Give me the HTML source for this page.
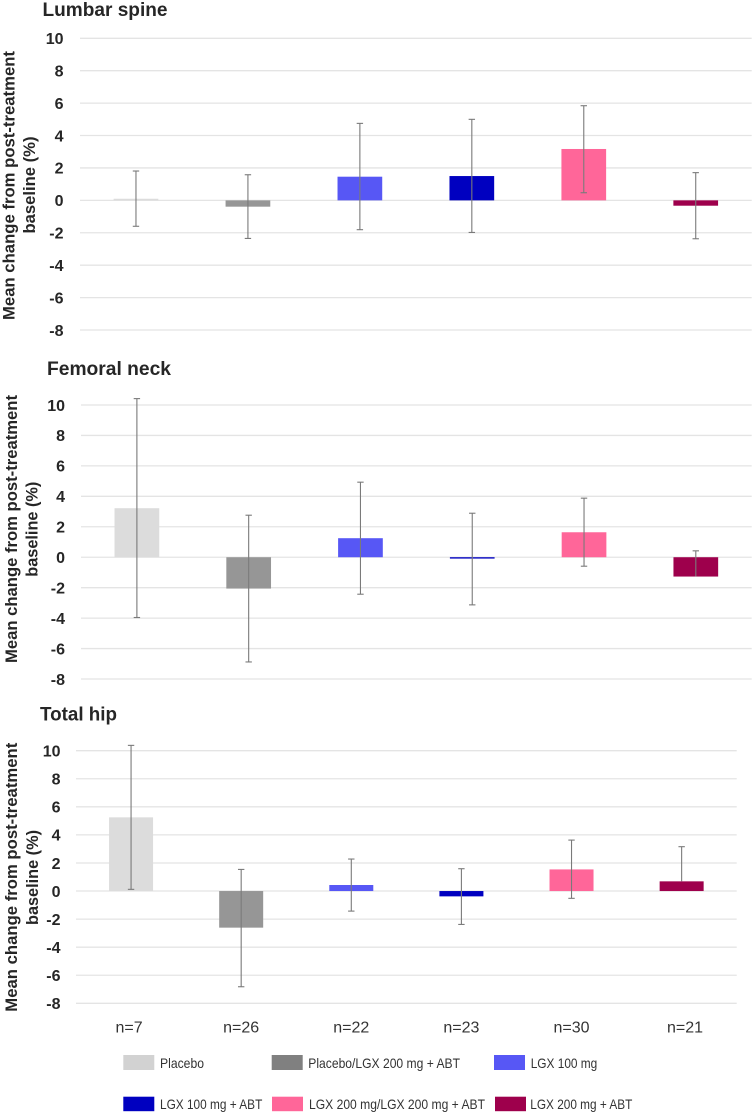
<!DOCTYPE html>
<html lang="en">
<head>
<meta charset="utf-8">
<title>Mean change from post-treatment baseline</title>
<style>
html,body{margin:0;padding:0;background:#fff;width:755px;height:1115px;overflow:hidden}
svg{display:block;filter:blur(0.3px)}
text{font-family:"Liberation Sans",sans-serif}
.title{font-size:19px;font-weight:bold;fill:#262626}
.ytitle{font-size:17px;font-weight:bold;fill:#262626}
.tick{font-size:16px;font-weight:bold;fill:#262626;text-anchor:end}
.cat{font-size:16px;fill:#333;text-anchor:middle}
.leg{font-size:14px;fill:#333}
</style>
</head>
<body>
<svg id="chart" xmlns="http://www.w3.org/2000/svg" width="755" height="1115" viewBox="0 0 755 1115">
  <rect width="755" height="1115" fill="#fff"/>

  <text class="title" x="42.5" y="16" textLength="125" lengthAdjust="spacingAndGlyphs">Lumbar spine</text>
  <text class="title" x="47" y="375" textLength="124" lengthAdjust="spacingAndGlyphs">Femoral neck</text>
  <text class="title" x="40" y="720.7" textLength="77" lengthAdjust="spacingAndGlyphs">Total hip</text>

  <g>
    <text class="ytitle" transform="translate(14.7 320) rotate(-90)" textLength="269" lengthAdjust="spacingAndGlyphs">Mean change from post-treatment</text>
    <text class="ytitle" transform="translate(35 233.5) rotate(-90)" textLength="97" lengthAdjust="spacingAndGlyphs">baseline (%)</text>
  </g>
  <g>
    <text class="ytitle" transform="translate(17 663) rotate(-90)" textLength="268" lengthAdjust="spacingAndGlyphs">Mean change from post-treatment</text>
    <text class="ytitle" transform="translate(37.5 576.7) rotate(-90)" textLength="95" lengthAdjust="spacingAndGlyphs">baseline (%)</text>
  </g>
  <g>
    <text class="ytitle" transform="translate(17 1011.7) rotate(-90)" textLength="269" lengthAdjust="spacingAndGlyphs">Mean change from post-treatment</text>
    <text class="ytitle" transform="translate(38 925) rotate(-90)" textLength="95" lengthAdjust="spacingAndGlyphs">baseline (%)</text>
  </g>

  <g id="panels"></g>

  <g>
    <g>
      <rect x="123.3" y="1055" width="31" height="15" fill="#d2d2d2"/>
      <text class="leg" x="160" y="1068" textLength="44" lengthAdjust="spacingAndGlyphs">Placebo</text>
    </g>
    <g>
      <rect x="271.7" y="1055" width="31" height="15" fill="#808080"/>
      <text class="leg" x="308.3" y="1068" textLength="151.7" lengthAdjust="spacingAndGlyphs">Placebo/LGX 200 mg + ABT</text>
    </g>
    <g>
      <rect x="494" y="1055" width="31" height="15" fill="#5757f5"/>
      <text class="leg" x="530.7" y="1068" textLength="66.6" lengthAdjust="spacingAndGlyphs">LGX 100 mg</text>
    </g>
    <g>
      <rect x="123.3" y="1096.7" width="31" height="14.5" fill="#0000c0"/>
      <text class="leg" x="160" y="1109.2" textLength="102.3" lengthAdjust="spacingAndGlyphs">LGX 100 mg + ABT</text>
    </g>
    <g>
      <rect x="272" y="1096.7" width="31" height="14.5" fill="#ff6699"/>
      <text class="leg" x="309" y="1109.2" textLength="176" lengthAdjust="spacingAndGlyphs">LGX 200 mg/LGX 200 mg + ABT</text>
    </g>
    <g>
      <rect x="495" y="1096.7" width="31" height="14.5" fill="#9e004c"/>
      <text class="leg" x="530.3" y="1109.2" textLength="102" lengthAdjust="spacingAndGlyphs">LGX 200 mg + ABT</text>
    </g>
  </g>
</svg>

<script>
var groups = ['Placebo', 'Placebo/LGX 200 mg + ABT', 'LGX 100 mg', 'LGX 100 mg + ABT', 'LGX 200 mg/LGX 200 mg + ABT', 'LGX 200 mg + ABT'];
var sampleLabels = ['n=7', 'n=26', 'n=22', 'n=23', 'n=30', 'n=21'];
var tickValues = [10, 8, 6, 4, 2, 0, -2, -4, -6, -8];

var lumbarMeans = [0.1, -0.39, 1.46, 1.5, 3.17, -0.33];
var lumbarUpper = [1.81, 1.58, 4.75, 5.0, 5.84, 1.71];
var lumbarLower = [-1.6, -2.35, -1.81, -1.98, 0.47, -2.37];

var femoralMeans = [3.22, -2.06, 1.25, -0.09, 1.64, -1.27];
var femoralUpper = [10.42, 2.76, 4.93, 2.89, 3.88, 0.42];
var femoralLower = [-3.96, -6.88, -2.43, -3.13, -0.59, -1.27];

var hipMeans = [5.25, -2.61, 0.43, -0.38, 1.54, 0.69];
var hipUpper = [10.38, 1.54, 2.28, 1.59, 3.63, 3.16];
var hipLower = [0.12, -6.82, -1.43, -2.38, -0.52, 0.69];

var barColors = ['#dcdcdc', '#969696', '#5757f5', '#0000c0', '#ff6699', '#9e004c'];

var NS = 'http://www.w3.org/2000/svg';
var root = document.getElementById('panels');

function make(tag, attrs, parent) {
  var el = document.createElementNS(NS, tag);
  for (var k in attrs) { el.setAttribute(k, attrs[k]); }
  parent.appendChild(el);
  return el;
}

function drawPanel(key, layout, means, upper, lower, showCategories) {
  var domainMax = Math.max.apply(null, tickValues);
  var domainMin = Math.min.apply(null, tickValues);
  function yScale(v) {
    return layout.top + (domainMax - v) / (domainMax - domainMin) * (layout.bottom - layout.top);
  }
  var band = (layout.right - layout.left) / groups.length;
  function xScale(i) {
    return layout.left + band * (i + 0.5);
  }

  var panel = make('g', {}, root);
  
  

  tickValues.forEach(function (t) {
    var grid = make('line', {x1: layout.left, x2: layout.right, y1: yScale(t), y2: yScale(t), stroke: '#e4e4e4', 'stroke-width': 1.3}, panel);
    
    
    var label = make('text', {x: layout.labelX, y: yScale(t) + 5.8, 'class': 'tick'}, panel);
    label.textContent = String(t);
    
    
  });

  means.forEach(function (m, i) {
    var cx = xScale(i);
    var y0 = yScale(0);
    var ym = yScale(m);
    var bar = make('rect', {x: cx - layout.barWidth / 2, y: Math.min(y0, ym), width: layout.barWidth, height: Math.abs(ym - y0), fill: barColors[i]}, panel);
    
    

    var yu = yScale(upper[i]);
    var yl = yScale(lower[i]);
    var err = make('g', {stroke: '#7a7a7a', 'stroke-width': 1.1, fill: 'none'}, panel);
    
    
    make('line', {x1: cx, x2: cx, y1: yu, y2: yl}, err);
    make('line', {x1: cx - 3.2, x2: cx + 3.2, y1: yu, y2: yu}, err);
    if (lower[i] !== m) {
      make('line', {x1: cx - 3.2, x2: cx + 3.2, y1: yl, y2: yl}, err);
    }
  });

  if (showCategories) {
    sampleLabels.forEach(function (s, i) {
      var nudge = i === 0 ? -2 : (i === sampleLabels.length - 1 ? 3.4 : 0);
      var cat = make('text', {x: xScale(i) + nudge, y: layout.categoryY, 'class': 'cat'}, panel);
      cat.textContent = s;
      
      
    });
  }
}

drawPanel('lumbar', {left: 80, right: 751.7, top: 38.3, bottom: 330, labelX: 63.5, barWidth: 44.7}, lumbarMeans, lumbarUpper, lumbarLower, false);
drawPanel('femoral', {left: 81, right: 751.7, top: 405, bottom: 679, labelX: 65, barWidth: 44.7}, femoralMeans, femoralUpper, femoralLower, false);
drawPanel('hip', {left: 76, right: 736.7, top: 750.7, bottom: 1003.3, labelX: 60.5, barWidth: 44, categoryY: 1032.5}, hipMeans, hipUpper, hipLower, true);
</script>
</body>
</html>
